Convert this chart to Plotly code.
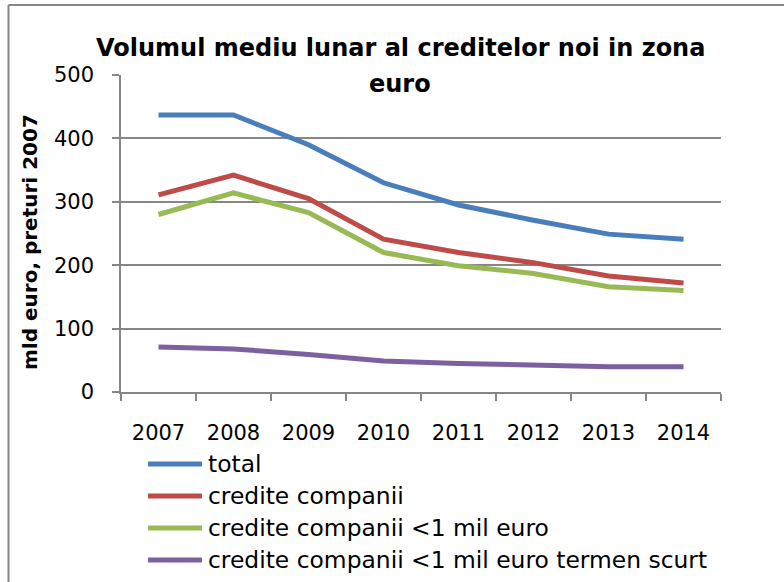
import plotly.graph_objects as go

years = ["2007", "2008", "2009", "2010", "2011", "2012", "2013", "2014"]
total = [437, 437, 390, 330, 295, 271, 249, 241]
credite_companii = [311, 342, 305, 241, 220, 204, 183, 172]
credite_mic = [280, 314, 283, 220, 199, 187, 166, 160]
credite_mic_scurt = [71, 68, 59, 49, 45, 43, 40, 40]

series_names = ["total", "credite companii", "credite companii <1 mil euro",
                "credite companii <1 mil euro termen scurt"]
series_values = [total, credite_companii, credite_mic, credite_mic_scurt]
colors = ["#4A7EBB", "#BE4B48", "#98B954", "#7D60A0"]

y_ticks = [0, 100, 200, 300, 400, 500]
title_line1 = "Volumul mediu lunar al creditelor noi in zona"
title_line2 = "euro"
y_title = "mld euro, preturi 2007"

FONT = "DejaVu Sans"
W, H = 784, 582
L, R, T, B = 121, 63, 75, 190
PW = W - L - R
PH = H - T - B

def px2x(px):
    return (px - L) / PW

def py2y(py):
    return (H - B - py) / PH

fig = go.Figure()
for name, vals, c in zip(series_names, series_values, colors):
    fig.add_trace(go.Scatter(x=years, y=vals, mode="lines", name=name,
                             line=dict(color=c, width=5), showlegend=False))

shapes = []
annotations = []
# outer border (left & top)
shapes.append(dict(type="line", xref="paper", yref="paper",
                   x0=px2x(8.5), x1=px2x(8.5), y0=py2y(5), y1=py2y(582),
                   line=dict(color="#868686", width=2)))
shapes.append(dict(type="line", xref="paper", yref="paper",
                   x0=px2x(8.5), x1=px2x(784), y0=py2y(5), y1=py2y(5),
                   line=dict(color="#868686", width=2)))

# manual legend
row_y = [464, 496, 528, 560]
for name, c, ry in zip(series_names, colors, row_y):
    shapes.append(dict(type="line", xref="paper", yref="paper",
                       x0=px2x(148), x1=px2x(202), y0=py2y(ry), y1=py2y(ry),
                       line=dict(color=c, width=5)))
    annotations.append(dict(text=name, xref="paper", yref="paper",
                            x=px2x(206), y=py2y(ry), xanchor="left", yanchor="middle",
                            showarrow=False, font=dict(family=FONT, size=23.4, color="#000")))

# title
annotations.append(dict(text="<b>" + title_line1 + "</b>", xref="paper", yref="paper",
                        x=px2x(400), y=py2y(48), xanchor="center", yanchor="middle",
                        showarrow=False, font=dict(family=FONT, size=24, color="#000")))
annotations.append(dict(text="<b>" + title_line2 + "</b>", xref="paper", yref="paper",
                        x=px2x(400), y=py2y(84), xanchor="center", yanchor="middle",
                        showarrow=False, font=dict(family=FONT, size=24, color="#000")))
# y axis title
annotations.append(dict(text="<b>" + y_title + "</b>", xref="paper", yref="paper",
                        x=px2x(30), y=py2y(242), xanchor="center", yanchor="middle",
                        textangle=-90, showarrow=False,
                        font=dict(family=FONT, size=20, color="#000")))

fig.update_layout(
    width=W, height=H,
    margin=dict(l=L, r=R, t=T, b=B),
    paper_bgcolor="white", plot_bgcolor="white",
    font=dict(family=FONT, size=21, color="#000"),
    shapes=shapes, annotations=annotations,
    showlegend=False,
)
fig.update_xaxes(type="category", range=[-0.5, 7.5], tickson="boundaries",
                 ticks="outside", ticklen=7,
                 tickcolor="#868686", tickwidth=1.5, showline=True, linecolor="#868686",
                 linewidth=1.5, showgrid=False, ticklabelstandoff=21,
                 tickfont=dict(family=FONT, size=21, color="#000"))
fig.update_yaxes(range=[0, 500], tickvals=y_ticks, ticks="outside", ticklen=7,
                 tickcolor="#868686", tickwidth=1.5, showline=True, linecolor="#868686",
                 linewidth=1.5, showgrid=True, gridcolor="#868686", gridwidth=1.5,
                 zeroline=False, ticklabelstandoff=14,
                 tickfont=dict(family=FONT, size=21, color="#000"))

fig.write_html("out.html", config={"displayModeBar": False},
               post_script="document.body.style.margin='0';")
